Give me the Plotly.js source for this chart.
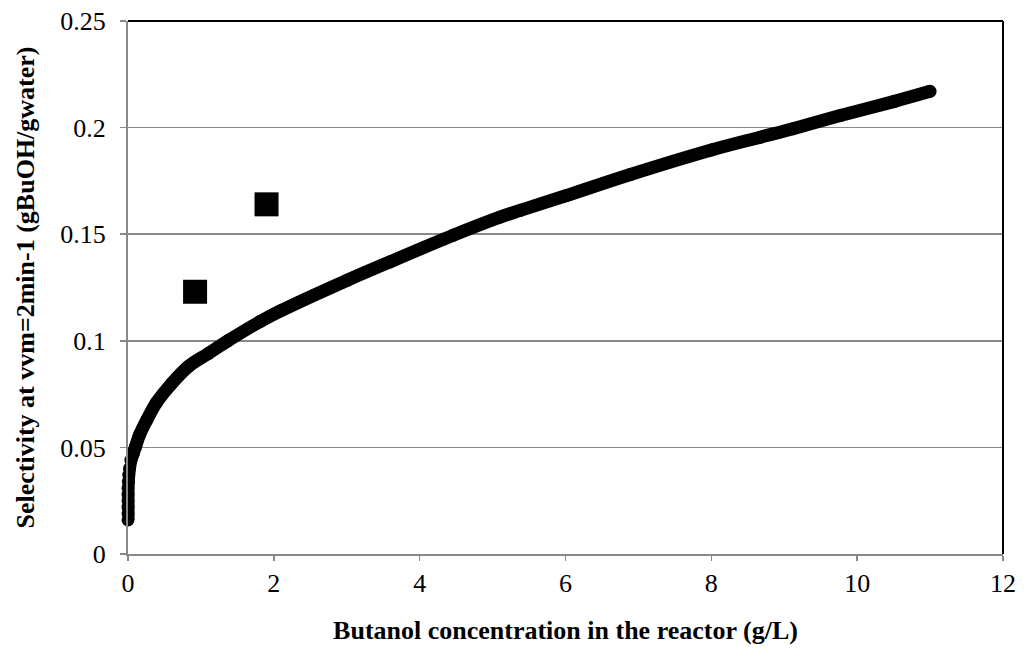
<!DOCTYPE html>
<html>
<head>
<meta charset="utf-8">
<script src="https://cdn.plot.ly/plotly-3.0.1.min.js"></script>
<style>html,body{margin:0;padding:0;background:#fff;}#chart{width:1026px;height:655px;}</style>
</head>
<body>
<div id="chart"></div>
<script>
// Model curve
const modelX = [0.0, 0.0, 0.0, 0.0, 0.0, 0.0, 0.005, 0.01, 0.02, 0.04, 0.07, 0.10, 0.16, 0.26, 0.39, 0.60, 0.83, 1.10, 1.37, 1.81, 2.09, 3.0, 3.59, 4.46, 5.10, 5.38, 6.0, 6.89, 8.0, 8.67, 9.12, 9.77, 10.5, 11.0];
const modelY = [0.016, 0.019, 0.022, 0.025, 0.028, 0.031, 0.034, 0.037, 0.040, 0.044, 0.047, 0.050, 0.056, 0.063, 0.071, 0.080, 0.088, 0.094, 0.100, 0.109, 0.1140, 0.1283, 0.137, 0.1495, 0.158, 0.1612, 0.168, 0.178, 0.1895, 0.1955, 0.1995, 0.2057, 0.2122, 0.217];
// Experimental points
const expX = [0.92, 1.90];
const expY = [0.123, 0.164];
const xTicks = [0, 2, 4, 6, 8, 10, 12];
const yTicks = [0, 0.05, 0.1, 0.15, 0.2, 0.25];
const xTitle = 'Butanol concentration in the reactor (g/L)';
const yTitle = 'Selectivity at vvm=2min-1 (gBuOH/gwater)';

const font = 'Liberation Serif, Times New Roman, serif';
const grey = '#898989';

const traces = [
  {x: modelX, y: modelY, type: 'scatter', mode: 'lines+markers',
   line: {color: '#000', width: 13, shape: 'spline', smoothing: 1},
   marker: {color: '#000', size: 13, symbol: 'circle'},
   cliponaxis: false, hoverinfo: 'x+y', showlegend: false},
  {x: expX, y: expY, type: 'scatter', mode: 'markers',
   marker: {color: '#000', size: 24, symbol: 'square', line: {width: 0}},
   showlegend: false}
];

const layout = {
  width: 1026, height: 655,
  paper_bgcolor: '#fff', plot_bgcolor: '#fff',
  margin: {l: 128, r: 23, t: 21, b: 101},
  font: {family: font, color: '#000', size: 26},
  xaxis: {range: [0, 12], tickvals: xTicks, ticktext: xTicks.map(String),
    showgrid: false, zeroline: false, showline: true, linecolor: grey, linewidth: 2,
    ticks: 'outside', ticklen: 5, tickcolor: grey, tickwidth: 1.5,
    tickfont: {family: font, size: 26, color: '#000'},
    title: {text: xTitle, font: {family: font, size: 26, color: '#000', weight: 'bold'}, standoff: 24}},
  yaxis: {range: [0, 0.25], tickvals: yTicks, ticktext: yTicks.map(String),
    showgrid: true, gridcolor: grey, gridwidth: 1.5, zeroline: false,
    showline: true, linecolor: grey, linewidth: 2,
    ticks: 'outside', ticklen: 6, tickcolor: grey, tickwidth: 1.5, ticklabelstandoff: 9,
    tickfont: {family: font, size: 26, color: '#000'},
    title: {text: yTitle, font: {family: font, size: 26, color: '#000', weight: 'bold'}, standoff: 18}},
  shapes: [
    {type: 'line', xref: 'paper', yref: 'paper', x0: 0, x1: 1, y0: 1, y1: 1, line: {color: '#000', width: 2}},
    {type: 'line', xref: 'paper', yref: 'paper', x0: 1, x1: 1, y0: 0, y1: 1, line: {color: '#000', width: 2}}
  ]
};

Plotly.newPlot('chart', traces, layout, {displayModeBar: false, staticPlot: true});
</script>
</body>
</html>
